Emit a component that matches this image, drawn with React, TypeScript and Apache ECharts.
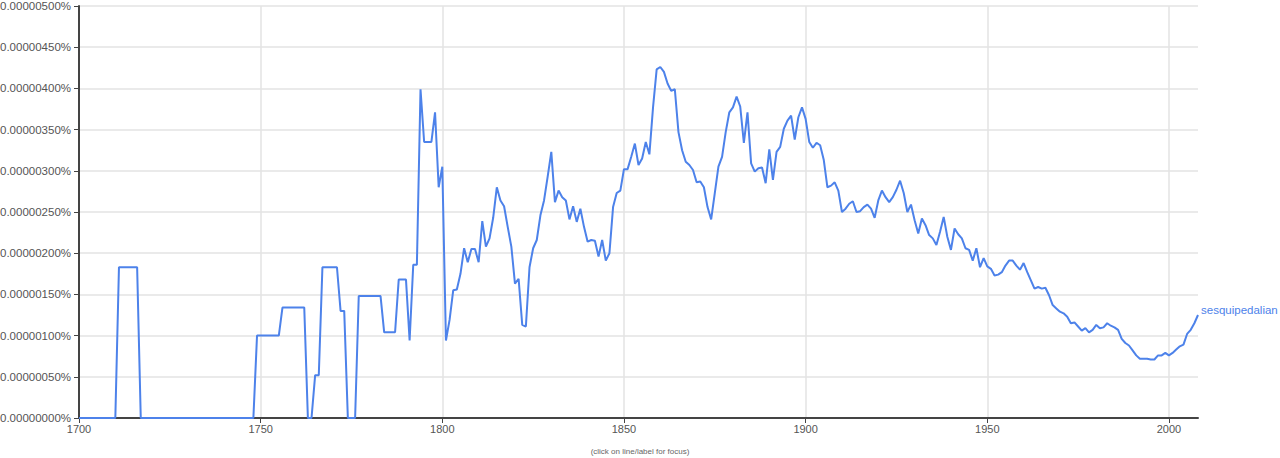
import React, { useEffect, useRef } from 'react';
import * as echarts from 'echarts';

// x axis: years
const START_YEAR = 1700;
const END_YEAR = 2008;
const xTickYears = [1700, 1750, 1800, 1850, 1900, 1950, 2000];

// y axis: values stored in units of 1e-8 percent (0.00000001%)
const Y_UNIT = 1e-8;
const Y_MAX = 500;
const Y_STEP = 50;

const seriesName = 'sesquipedalian';
const footnote = '(click on line/label for focus)';

// one value per year, 1700 .. 2008 (units of 1e-8 %)
const values1700s = [0, 0, 0, 0, 0, 0, 0, 0, 0, 0];
const values1710s = [0, 183, 183, 183, 183, 183, 183, 0, 0, 0];
const values1720s = [0, 0, 0, 0, 0, 0, 0, 0, 0, 0];
const values1730s = [0, 0, 0, 0, 0, 0, 0, 0, 0, 0];
const values1740s = [0, 0, 0, 0, 0, 0, 0, 0, 0, 100];
const values1750s = [100, 100, 100, 100, 100, 100, 134, 134, 134, 134];
const values1760s = [134, 134, 134, 0, 0, 52, 52, 183, 183, 183];
const values1770s = [183, 183, 130, 130, 0, 0, 0, 148, 148, 148];
const values1780s = [148, 148, 148, 148, 104, 104, 104, 104, 168, 168];
const values1790s = [168, 94, 186, 186, 399, 335, 335, 335, 371, 280];
const values1800s = [305, 94, 119, 155, 156, 175, 206, 189, 205, 205];
const values1810s = [189, 239, 208, 218, 243, 280, 264, 257, 232, 208];
const values1820s = [163, 169, 113, 111, 183, 206, 216, 246, 264, 293];
const values1830s = [323, 262, 276, 268, 264, 241, 257, 238, 254, 232];
const values1840s = [214, 216, 215, 196, 216, 191, 200, 256, 273, 276];
const values1850s = [302, 302, 317, 333, 307, 315, 335, 320, 377, 423];
const values1860s = [426, 420, 406, 397, 399, 347, 325, 311, 307, 301];
const values1870s = [286, 287, 280, 256, 241, 273, 305, 317, 347, 371];
const values1880s = [377, 390, 378, 334, 371, 309, 299, 303, 304, 285];
const values1890s = [326, 289, 323, 329, 351, 361, 367, 338, 365, 377];
const values1900s = [363, 335, 328, 334, 331, 313, 280, 282, 286, 276];
const values1910s = [250, 254, 260, 263, 250, 251, 256, 259, 254, 243];
const values1920s = [264, 276, 268, 262, 268, 277, 288, 273, 250, 259];
const values1930s = [240, 224, 242, 234, 222, 218, 210, 226, 244, 220];
const values1940s = [204, 230, 223, 218, 206, 204, 191, 206, 183, 194];
const values1950s = [184, 181, 173, 174, 177, 185, 191, 191, 185, 180];
const values1960s = [188, 177, 167, 157, 159, 157, 158, 149, 137, 133];
const values1970s = [129, 127, 123, 115, 116, 111, 106, 109, 104, 107];
const values1980s = [113, 109, 110, 115, 112, 110, 107, 96, 91, 88];
const values1990s = [82, 76, 72, 72, 72, 71, 71, 76, 76, 79];
const values2000s = [76, 79, 83, 87, 89, 102, 107, 115, 125];

const values = [
  ...values1700s, ...values1710s, ...values1720s, ...values1730s, ...values1740s,
  ...values1750s, ...values1760s, ...values1770s, ...values1780s, ...values1790s,
  ...values1800s, ...values1810s, ...values1820s, ...values1830s, ...values1840s,
  ...values1850s, ...values1860s, ...values1870s, ...values1880s, ...values1890s,
  ...values1900s, ...values1910s, ...values1920s, ...values1930s, ...values1940s,
  ...values1950s, ...values1960s, ...values1970s, ...values1980s, ...values1990s,
  ...values2000s,
];

const FONT = 'Arial, "Liberation Sans", sans-serif';
const LINE_COLOR = '#4d82ea';

export default function App() {
  const ref = useRef<HTMLDivElement>(null);

  useEffect(() => {
    if (!ref.current) return;
    const chart = echarts.init(ref.current, null, { renderer: 'svg' });
    const data = values.map((v, i) => [START_YEAR + i, v]);

    chart.setOption({
      animation: false,
      backgroundColor: '#ffffff',
      textStyle: { fontFamily: FONT },
      grid: {
        left: 79,
        right: 82,
        top: 6,
        bottom: 40,
        containLabel: false,
        outerBoundsMode: 'none',
      },
      xAxis: {
        type: 'value',
        min: START_YEAR,
        max: END_YEAR,
        interval: 50,
        axisLine: { show: true, lineStyle: { color: '#444', width: 2 } },
        axisTick: {
          show: true,
          length: 5,
          customValues: xTickYears,
          lineStyle: { color: '#444', width: 1 },
        },
        axisLabel: {
          customValues: xTickYears,
          color: '#555',
          fontSize: 11,
          fontFamily: FONT,
          margin: 5,
          formatter: (v: number) => String(v),
        },
        splitLine: { show: true, lineStyle: { color: '#e3e3e3', width: 1.5 } },
      },
      yAxis: {
        type: 'value',
        min: 0,
        max: Y_MAX,
        interval: Y_STEP,
        axisLine: { show: true, lineStyle: { color: '#444', width: 2 } },
        axisTick: { show: true, length: 5, lineStyle: { color: '#444', width: 1 } },
        axisLabel: {
          color: '#555',
          fontSize: 11.5,
          fontFamily: FONT,
          margin: 8,
          formatter: (v: number) => (v * Y_UNIT).toFixed(8) + '%',
        },
        splitLine: { show: true, lineStyle: { color: '#e3e3e3', width: 1.5 } },
      },
      series: [
        {
          name: seriesName,
          type: 'line',
          data,
          symbol: 'none',
          lineStyle: { color: LINE_COLOR, width: 2 },
          itemStyle: { color: LINE_COLOR },
          clip: false,
          endLabel: {
            show: true,
            formatter: seriesName,
            color: LINE_COLOR,
            fontSize: 11.5,
            fontFamily: FONT,
            distance: 3,
            offset: [0, -5],
          },
        },
      ],
      graphic: [
        {
          type: 'text',
          left: 'center',
          top: 447,
          style: {
            text: footnote,
            fill: '#666',
            fontSize: 8,
            fontFamily: FONT,
          },
        },
      ],
    });

    return () => chart.dispose();
  }, []);

  return (
    <div
      ref={ref}
      style={{ position: 'absolute', left: 0, top: 0, width: 1280, height: 458 }}
    />
  );
}
